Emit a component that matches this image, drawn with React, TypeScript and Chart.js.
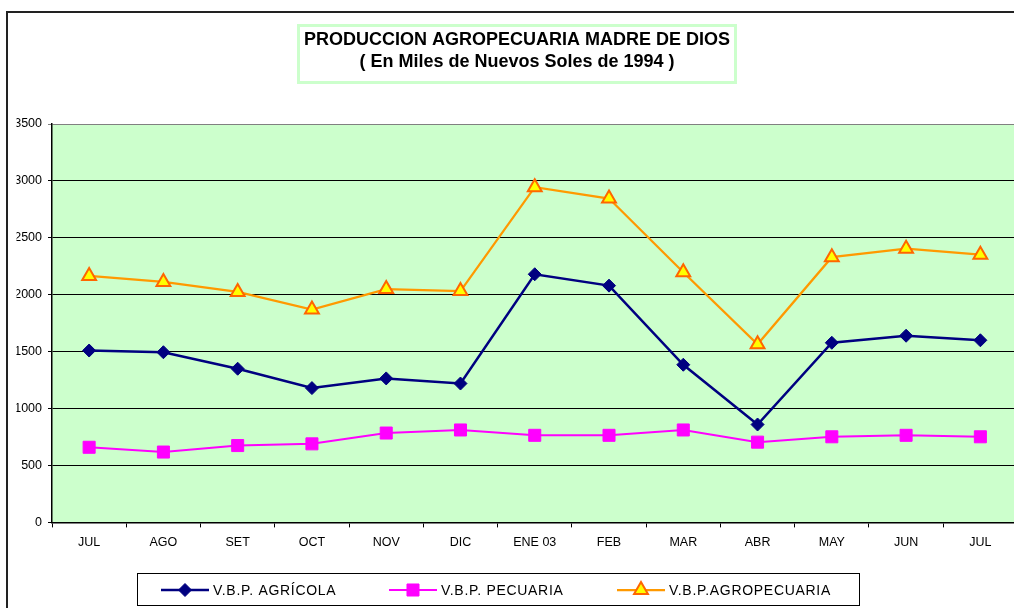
import { useEffect, useRef } from 'react';
import { Chart, registerables } from 'chart.js';
import { drawPoint } from 'chart.js/helpers';

Chart.register(...registerables);

const categories = ['JUL', 'AGO', 'SET', 'OCT', 'NOV', 'DIC', 'ENE 03', 'FEB', 'MAR', 'ABR', 'MAY', 'JUN', 'JUL'];
const agricola = [1510, 1495, 1350, 1180, 1265, 1220, 2180, 2080, 1385, 860, 1578, 1640, 1600];
const pecuaria = [660, 618, 675, 690, 785, 812, 765, 765, 812, 705, 752, 765, 752];
const agropecuaria = [2165, 2113, 2025, 1870, 2050, 2032, 2945, 2845, 2197, 1565, 2330, 2405, 2352];
const seriesLabels = ['V.B.P. AGRÍCOLA', 'V.B.P. PECUARIA', 'V.B.P.AGROPECUARIA'];
const titleLines = ['PRODUCCION AGROPECUARIA MADRE DE DIOS', '( En Miles de Nuevos Soles de 1994 )'];
const yMin = 0;
const yMax = 3500;
const yStep = 500;

const FONT = '"Liberation Sans", Arial, sans-serif';

const decorPlugin = {
  id: 'decor',
  beforeDraw(chart: any) {
    const { ctx, chartArea } = chart;
    ctx.save();
    // outer frame
    ctx.strokeStyle = '#222';
    ctx.lineWidth = 2;
    ctx.strokeRect(7, 12, 3000, 3000);
    // plot background
    ctx.fillStyle = '#CCFFCC';
    ctx.fillRect(chartArea.left, chartArea.top, chartArea.right - chartArea.left, chartArea.bottom - chartArea.top);
    // title box
    ctx.fillStyle = '#fff';
    ctx.fillRect(298, 25, 437, 57);
    ctx.strokeStyle = '#CCFFCC';
    ctx.lineWidth = 3;
    ctx.strokeRect(298.5, 25.5, 437, 57);
    ctx.restore();
  },
  afterDraw(chart: any) {
    const { ctx } = chart;
    ctx.save();
    // legend box
    ctx.strokeStyle = '#000';
    ctx.lineWidth = 1;
    ctx.fillStyle = '#fff';
    ctx.fillRect(137.5, 573.5, 722, 32);
    ctx.strokeRect(137.5, 573.5, 722, 32);
    const items = [
      { x0: 161, xm: 185, x1: 209, xt: 213 },
      { x0: 389, xm: 413, x1: 437, xt: 441 },
      { x0: 617, xm: 641, x1: 665, xt: 669 },
    ];
    const y = 590;
    chart.data.datasets.forEach((ds: any, i: number) => {
      const it = items[i];
      ctx.strokeStyle = ds.borderColor;
      ctx.lineWidth = ds.borderWidth;
      ctx.beginPath();
      ctx.moveTo(it.x0, y);
      ctx.lineTo(it.x1, y);
      ctx.stroke();
      ctx.fillStyle = ds.pointBackgroundColor;
      ctx.strokeStyle = ds.pointBorderColor;
      ctx.lineWidth = ds.pointBorderWidth;
      drawPoint(ctx, { pointStyle: ds.pointStyle, rotation: 0, borderWidth: ds.pointBorderWidth, radius: ds.pointRadius }, it.xm, y);
      ctx.fillStyle = '#000';
      ctx.font = `14px ${FONT}`;
      ctx.textBaseline = 'middle';
      ctx.textAlign = 'left';
      try { (ctx as any).letterSpacing = '0.7px'; } catch (e) {}
      ctx.fillText(ds.label, it.xt, y + 1);
      try { (ctx as any).letterSpacing = '0px'; } catch (e) {}
    });
    ctx.restore();
  },
};

export default function App() {
  const ref = useRef<HTMLCanvasElement | null>(null);
  useEffect(() => {
    if (!ref.current) return;
    const chart = new Chart(ref.current, {
      type: 'line',
      data: {
        labels: categories,
        datasets: [
          {
            label: seriesLabels[0],
            data: agricola,
            borderColor: '#000080',
            borderWidth: 2.5,
            pointStyle: 'rectRot',
            pointRadius: 6.5,
            pointBackgroundColor: '#000080',
            pointBorderColor: '#000080',
            pointBorderWidth: 1,
            tension: 0,
          },
          {
            label: seriesLabels[1],
            data: pecuaria,
            borderColor: '#FF00FF',
            borderWidth: 2,
            pointStyle: 'rect',
            pointRadius: 8.5,
            pointBackgroundColor: '#FF00FF',
            pointBorderColor: '#FF00FF',
            pointBorderWidth: 1,
            tension: 0,
          },
          {
            label: seriesLabels[2],
            data: agropecuaria,
            borderColor: '#FF9900',
            borderWidth: 2.25,
            pointStyle: 'triangle',
            pointRadius: 8,
            pointBackgroundColor: '#FFFF00',
            pointBorderColor: '#FF6600',
            pointBorderWidth: 2,
            tension: 0,
          },
        ] as any,
      },
      options: {
        responsive: false,
        animation: false,
        events: [],
        layout: { padding: { left: 16.5, right: 12.5, top: 0, bottom: 49.6 } },
        plugins: {
          legend: { display: false },
          tooltip: { enabled: false },
          title: {
            display: true,
            text: titleLines,
            color: '#000',
            font: { family: FONT, size: 18, weight: 'bold', lineHeight: 22 / 18 },
            padding: { top: 29, bottom: 51 },
          },
        },
        scales: {
          x: {
            type: 'category',
            offset: true,
            grid: { offset: true, drawOnChartArea: false, drawTicks: true, tickLength: 5, color: '#000' },
            border: { display: true, color: '#000', width: 1.5 },
            ticks: { color: '#000', font: { family: FONT, size: 12.5 }, padding: 8, maxRotation: 0, autoSkip: false },
          },
          y: {
            min: yMin,
            max: yMax,
            ticks: {
              stepSize: yStep,
              color: '#000',
              font: { family: FONT, size: 12.5 },
              padding: 6,
              callback: (v: any) => String(v),
            },
            grid: {
              color: (c: any) => (c.tick && c.tick.value === yMax ? '#808080' : '#000'),
              tickLength: 4,
              lineWidth: 1,
            },
            border: { display: true, color: '#000', width: 1.5 },
            afterFit: (s: any) => { s.width = 35.5; },
          },
        },
      } as any,
      plugins: [decorPlugin],
    });
    return () => chart.destroy();
  }, []);
  return (
    <div style={{ position: 'fixed', left: 0, top: 0, width: 1014, height: 608, overflow: 'hidden', background: '#fff' }}>
      <canvas ref={ref} width={1030} height={608} style={{ display: 'block', width: 1030, height: 608 }} />
    </div>
  );
}
